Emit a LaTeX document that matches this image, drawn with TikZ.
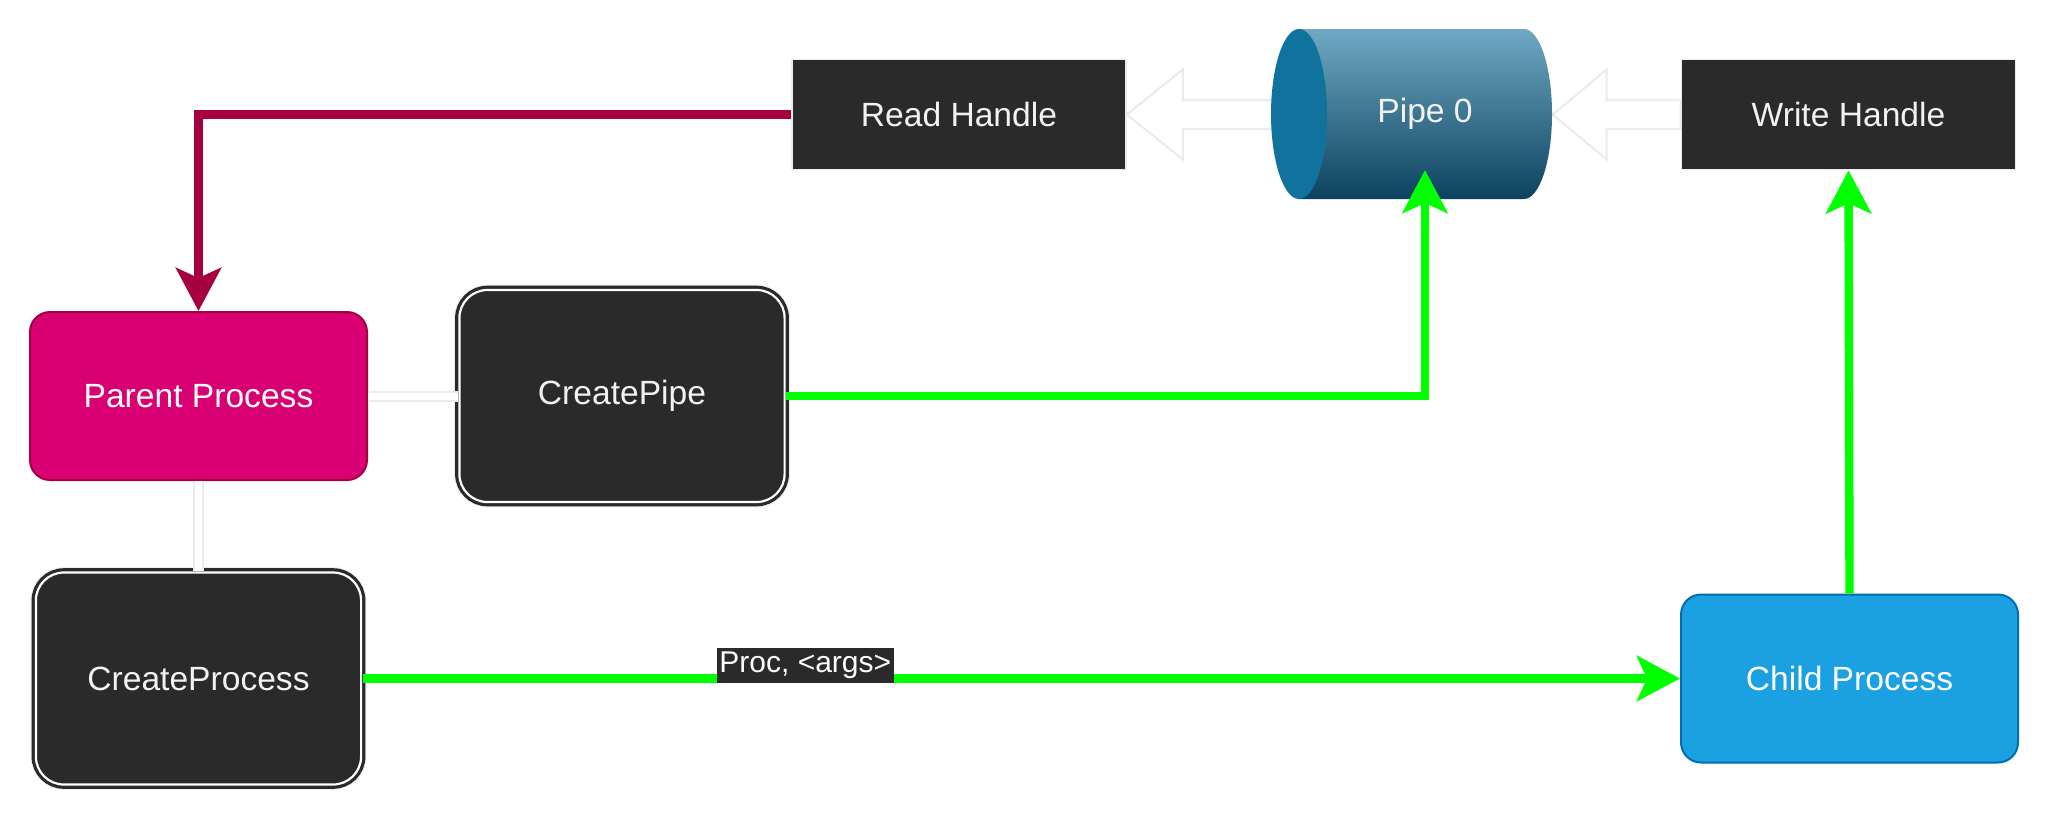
\documentclass[tikz,border=0pt]{standalone}
\usepackage{fontspec}
\setmainfont{Liberation Sans}
\usetikzlibrary{arrows.meta,calc}
\definecolor{boxdark}{HTML}{2A2A2A}
\definecolor{faint}{HTML}{EBEBEB}
\definecolor{lighttext}{HTML}{F2F2F2}
\definecolor{parentfill}{HTML}{D80073}
\definecolor{parentdraw}{HTML}{A50040}
\definecolor{childfill}{HTML}{1BA1E2}
\definecolor{childdraw}{HTML}{006EAF}
\definecolor{pipetop}{HTML}{70A9C5}
\definecolor{pipebot}{HTML}{0C425E}
\definecolor{pipefront}{HTML}{10739E}
\definecolor{linkgreen}{HTML}{00FF00}
\begin{document}
\begin{tikzpicture}[x=0.5pt,y=-0.5pt,
  nodefont/.style={font=\fontsize{16.8}{20}\selectfont},
  handlebox/.style={nodefont, fill=boxdark, draw=faint, line width=0.8pt, text=lighttext,
    minimum width=167pt, minimum height=55pt, inner sep=0pt},
  procbox/.style={nodefont, rounded corners=10pt, line width=1pt, text=white,
    minimum width=168.5pt, minimum height=84pt, inner sep=0pt},
  actbox/.style={nodefont, fill=boxdark, rounded corners=14pt, text=lighttext,
    draw=boxdark, line width=1.6pt, double=white, double distance=1.1pt,
    preaction={draw=faint, line width=5.3pt},
    minimum width=162.6pt, minimum height=106pt, inner sep=0pt},
  hollowarrow/.style={draw=faint, fill=white, line width=1pt, line join=miter},
  faintlink/.style={draw=faint, line width=1pt, double=white, double distance=3.5pt},
  greenarrow/.style={draw=linkgreen, line width=4.2pt,
    -{Stealth[length=21.5pt,width=22.5pt,inset=5pt]}},
  redarrow/.style={draw=parentdraw, line width=4.2pt,
    -{Stealth[length=21.5pt,width=22.5pt,inset=5pt]}},
  edgelabel/.style={font=\fontsize{15}{17}\selectfont, fill=boxdark, text=white,
    inner xsep=1.2pt, inner ysep=1.8pt}
]
\fill[white] (0,0) rectangle (2048,821);
\useasboundingbox (0,0) rectangle (2048,821);

% handles
\node[handlebox] (rh) at (959,114.5) {Read Handle};
\node[handlebox] (wh) at (1848.5,114.5) {Write Handle};
\coordinate (pipec) at (1425,114);

% hollow arrows
\begin{scope}[shift={(rh.east)}]
  \draw[hollowarrow] (0,0) -- (56,-45) -- (56,-14.5) -- (163,-14.5) -- (163,14.5)
    -- (56,14.5) -- (56,45) -- cycle;
\end{scope}
\begin{scope}[shift={(wh.west)}]
  \draw[hollowarrow] (0,-14.5) -- (-74,-14.5) -- (-74,-45) -- (-128,0) -- (-74,45)
    -- (-74,14.5) -- (0,14.5) -- cycle;
\end{scope}

% pipe cylinder
\shade[top color=pipetop, bottom color=pipebot]
  ($(pipec)+(-126,-85)$) -- ($(pipec)+(99,-85)$)
  arc[start angle=90, end angle=-90, x radius=14pt, y radius=42.5pt]
  -- ($(pipec)+(-126,85)$) -- cycle;
\fill[pipefront] ($(pipec)+(-126,0)$) ellipse [x radius=14pt, y radius=42.5pt];
\node[nodefont, text=lighttext, minimum width=140pt, minimum height=85pt] (pipe) at (pipec) {Pipe 0};
\coordinate (pipein) at ($(pipe.center)+(0,56)$);

% processes
\node[procbox, fill=parentfill, draw=parentdraw] (pp) at (198.5,396) {Parent Process};
\node[procbox, fill=childfill, draw=childdraw] (ch) at (1849.5,678.5) {Child Process};
\node[actbox] (cp) at (622,396) {CreatePipe};
\node[actbox] (cpr) at (198.5,678.5) {CreateProcess};

% faint links
\draw[faintlink] (pp.east) -- (cp.west);
\draw[faintlink] (pp.south) -- (cpr.north);

% connectors
\draw[redarrow] (rh.west) -| (pp.north);
\draw[greenarrow] (cp.east) -| (pipein);
\draw[greenarrow] (ch.north) -- (wh.south);
\draw[greenarrow] (cpr.east) -- node[edgelabel, pos=0.336, yshift=6.5pt] (lbl) {Proc, <args>} (ch.west);
\end{tikzpicture}
\end{document}
